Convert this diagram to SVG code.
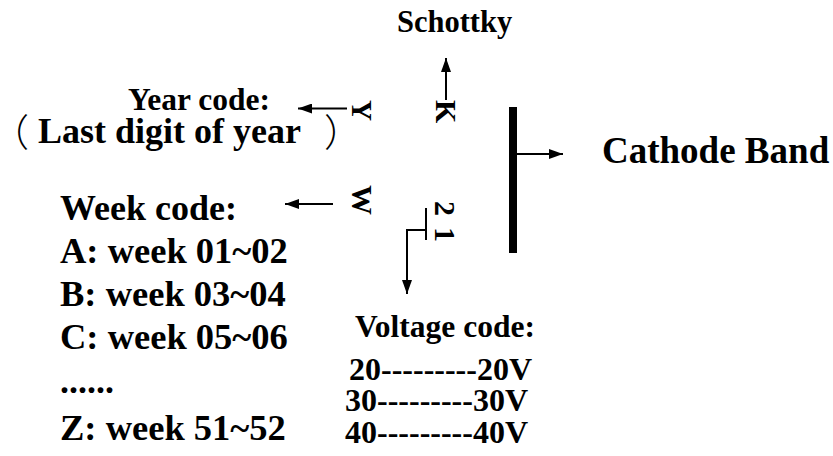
<svg xmlns="http://www.w3.org/2000/svg" width="833" height="456" viewBox="0 0 833 456">
<style>
text{font-family:"Liberation Serif","Times New Roman",serif;font-weight:bold;fill:#000}
.ln{stroke:#000;stroke-width:2;fill:none}
.cjk{font-family:"Noto Sans CJK SC","Noto Sans CJK JP",sans-serif;font-weight:300;font-feature-settings:"halt" 1}
</style>
<defs>
<marker id="ah" markerUnits="userSpaceOnUse" markerWidth="14" markerHeight="10" refX="14" refY="5" orient="auto">
<path d="M0,0 L14,5 L0,10 z" fill="#000"/>
</marker>
</defs>
<rect width="833" height="456" fill="#fff"/>
<g id="schottky"><text x="397" y="32" font-size="30.5">Schottky</text></g>
<g id="cathode-band-label"><text x="602" y="163" font-size="37">Cathode Band</text></g>
<g id="band"><rect x="509" y="107" width="8" height="146" fill="#000"/></g>
<g id="year-code">
<text x="128" y="110" font-size="31.5">Year code:</text>
<text class="cjk" x="10" y="146" font-size="38">（</text>
<text x="38" y="143" font-size="36">Last digit of year</text>
<text class="cjk" x="324" y="146" font-size="38">）</text>
</g>
<g id="week-code">
<text x="60" y="220" font-size="36">Week code:</text>
<text x="60" y="263" font-size="36.5">A: week 01~02</text>
<text x="60" y="306" font-size="36.5">B: week 03~04</text>
<text x="60" y="349" font-size="36.5">C: week 05~06</text>
<text x="60" y="393" font-size="36">......</text>
<text x="60" y="440" font-size="36.5">Z: week 51~52</text>
</g>
<g id="voltage-code">
<text x="355" y="337" font-size="31.5">Voltage code:</text>
<text x="349" y="380" font-size="32">20---------20V</text>
<text x="345" y="411" font-size="32">30---------30V</text>
<text x="345" y="443" font-size="32">40---------40V</text>
</g>
<g id="mark-Y"><text transform="translate(352,100) rotate(90)" font-size="29">Y</text></g>
<g id="mark-K"><text transform="translate(436,100) rotate(90)" font-size="30">K</text></g>
<g id="mark-W"><text transform="translate(352,185) rotate(90)" font-size="30">W</text></g>
<g id="mark-21">
<text transform="translate(435,201) rotate(90)" font-size="30">2</text>
<text transform="translate(435,227) rotate(90)" font-size="30">1</text>
</g>
<g id="connectors">
<line class="ln" x1="446" y1="100" x2="446" y2="58" marker-end="url(#ah)"/>
<line class="ln" x1="347" y1="108.5" x2="298" y2="108.5" marker-end="url(#ah)"/>
<line class="ln" x1="333" y1="204" x2="285" y2="204" marker-end="url(#ah)"/>
<line class="ln" x1="517" y1="154" x2="563" y2="154" marker-end="url(#ah)"/>
<line class="ln" x1="426" y1="208" x2="426" y2="240"/>
<polyline class="ln" points="426,230 407,230 407,294" marker-end="url(#ah)"/>
</g>
</svg>
